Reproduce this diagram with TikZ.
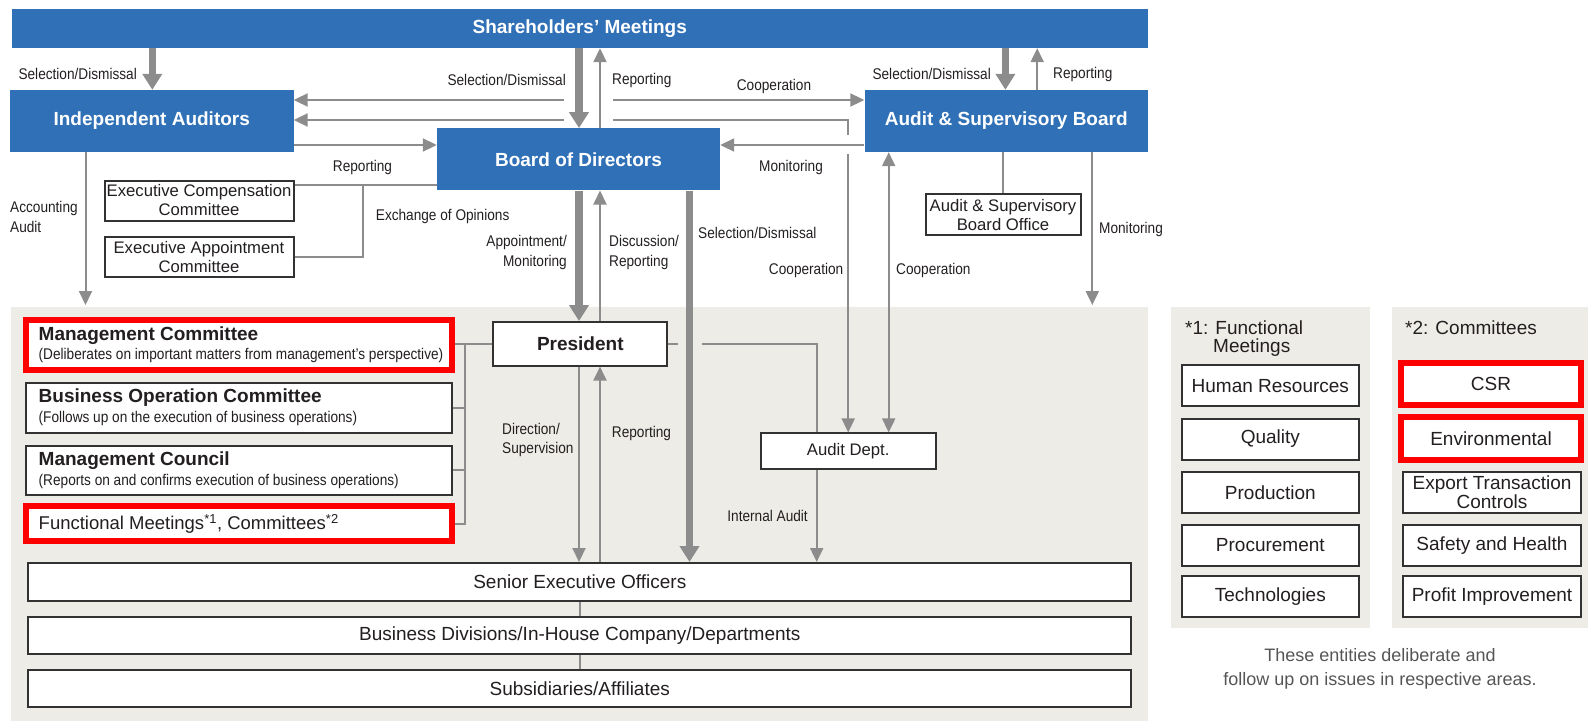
\documentclass[tikz,border=0pt]{standalone}
\usepackage{fontspec}
\setmainfont{Liberation Sans}
\newfontfamily\condfont{Liberation Sans}[FakeStretch=0.88]
\usetikzlibrary{arrows.meta}

\definecolor{boxblue}{RGB}{47,112,183}
\definecolor{linegray}{RGB}{140,140,140}
\definecolor{panelbg}{RGB}{238,236,231}
\definecolor{ink}{RGB}{35,31,32}
\definecolor{hired}{RGB}{255,0,0}
\definecolor{frame}{RGB}{50,50,50}
\definecolor{capgray}{RGB}{85,85,85}

\tikzset{
  panel/.style={fill=panelbg, draw=none, inner sep=0pt},
  bluebox/.style={fill=boxblue, draw=none, inner sep=0pt, text=white,
    font=\bfseries\fontsize{19}{22}\selectfont},
  whitebox/.style={fill=white, draw=frame, line width=2pt, inner sep=0pt,
    text=ink, align=center, font=\fontsize{16.7}{19}\selectfont},
  redbox/.style={fill=white, draw=hired, line width=6pt, inner sep=0pt},
  bigtext/.style={font=\fontsize{19}{19.5}\selectfont},
  thinline/.style={draw=linegray, line width=2pt},
  thinarrow/.style={thinline, -{Triangle[length=14pt,width=13pt]}},
  thinboth/.style={thinline, {Triangle[length=14pt,width=13pt]}-{Triangle[length=14pt,width=13pt]}},
  thickarrow/.style={draw=linegray, line width=7.5pt, -{Triangle[length=16pt,width=19pt]}},
  lbl/.style={inner sep=0pt, text=ink, font=\condfont\fontsize{15.5}{19.5}\selectfont},
  head/.style={inner sep=0pt, text=ink, anchor=west, font=\bfseries\fontsize{19}{22}\selectfont},
}

\begin{document}
\begin{tikzpicture}[x=1pt,y=-1pt]
\useasboundingbox (0,0) rectangle (1588,721);

% ---------- grey panels ----------
\node[panel, minimum width=1137.2, minimum height=413.8] (execbg) at (579.1,513.6) {};
\node[panel, minimum width=199, minimum height=321.6] (legA) at (1270,467.5) {};
\node[panel, minimum width=196.4, minimum height=321.6] (legB) at (1489.8,467.5) {};

% ---------- governance bodies ----------
\node[bluebox, minimum width=1136.5, minimum height=39.5] (SM) at (579.75,28.25) {Shareholders’ Meetings};
\node[bluebox, minimum width=283.5, minimum height=62] (IA) at (151.75,121) {Independent Auditors};
\node[bluebox, minimum width=283, minimum height=62] (BoD) at (578.5,159.3) {Board of Directors};
\node[bluebox, minimum width=283.5, minimum height=62] (ASB) at (1006.25,121) {Audit \& Supervisory Board};

\node[whitebox, minimum width=189, minimum height=40] (ECC) at (199,200.5) {Executive Compensation\\Committee};
\node[whitebox, minimum width=189, minimum height=40] (EAC) at (199,256.7) {Executive Appointment\\Committee};
\node[whitebox, minimum width=155, minimum height=41] (ASBO) at (1003,214.7) {Audit \& Supervisory\\Board Office};

% ---------- execution side ----------
\node[whitebox, minimum width=174, minimum height=43.5, font=\bfseries\fontsize{19}{22}\selectfont] (PR) at (580.3,343.8) {President};
\node[whitebox, minimum width=175, minimum height=35.5] (AD) at (848.2,451.2) {Audit Dept.};

\node[redbox, minimum width=425.4, minimum height=49.7] (MC) at (239,344.85) {};
\node[whitebox, minimum width=425.4, minimum height=49.7] (BOC) at (239,407.65) {};
\node[whitebox, minimum width=425.4, minimum height=49.7] (MCo) at (239,470.45) {};
\node[redbox, minimum width=425.4, minimum height=34.5] (FM) at (239,523.65) {};

\node[head] (MCt) at (38.5,335.5) {Management Committee};
\node[lbl, anchor=west] (MCs) at (38.5,355.5) {(Deliberates on important matters from management’s perspective)};
\node[head] (BOCt) at (38.5,397.5) {Business Operation Committee};
\node[lbl, anchor=west] (BOCs) at (38.5,418) {(Follows up on the execution of business operations)};
\node[head] (MCot) at (38.5,460.5) {Management Council};
\node[lbl, anchor=west] (MCos) at (38.5,481) {(Reports on and confirms execution of business operations)};
\node[inner sep=0pt, text=ink, anchor=west, font=\fontsize{18.5}{20}\selectfont] (FMt) at (38.5,523.6)
  {Functional Meetings\textsuperscript{*1}, Committees\textsuperscript{*2}};

\node[whitebox, bigtext, minimum width=1103, minimum height=37.6] (SEO) at (579.8,581.8) {Senior Executive Officers};
\node[whitebox, bigtext, minimum width=1103, minimum height=37.6] (BD) at (579.8,635.5) {Business Divisions/In-House Company/Departments};
\node[whitebox, bigtext, minimum width=1103, minimum height=37.6] (SA) at (579.8,688.3) {Subsidiaries/Affiliates};

% ---------- legend ----------
\node[inner sep=0pt, text=ink, anchor=west, font=\fontsize{19}{20}\selectfont] (legAt1) at (1185,328) {*1: Functional};
\node[inner sep=0pt, text=ink, anchor=west, font=\fontsize{19}{20}\selectfont] (legAt2) at (1213,348) {Meetings};
\node[inner sep=0pt, text=ink, anchor=west, font=\fontsize{19}{20}\selectfont] (legBt) at (1405,328) {*2: Committees};

\node[whitebox, bigtext, minimum width=177.3, minimum height=41] (f1) at (1270.35,385.8) {Human Resources};
\node[whitebox, bigtext, minimum width=177.3, minimum height=41] (f2) at (1270.35,439) {Quality};
\node[whitebox, bigtext, minimum width=177.3, minimum height=41] (f3) at (1270.35,492.3) {Production};
\node[whitebox, bigtext, minimum width=177.3, minimum height=41] (f4) at (1270.35,545.3) {Procurement};
\node[whitebox, bigtext, minimum width=177.3, minimum height=41] (f5) at (1270.35,596.7) {Technologies};

\node[redbox, bigtext, text=ink, minimum width=180, minimum height=42.3] (k1) at (1491,384.15) {CSR};
\node[redbox, bigtext, text=ink, minimum width=180, minimum height=42.7] (k2) at (1491,438.35) {Environmental};
\node[whitebox, bigtext, minimum width=177.4, minimum height=41] (k3) at (1492,492.3) {Export Transaction\\Controls};
\node[whitebox, bigtext, minimum width=177.4, minimum height=41] (k4) at (1492,545.3) {Safety and Health};
\node[whitebox, bigtext, minimum width=177.4, minimum height=41] (k5) at (1492,596.7) {Profit Improvement};

\node[inner sep=0pt, text=capgray, align=center, font=\fontsize{18}{24}\selectfont] (cap) at (1380,669)
  {These entities deliberate and\\follow up on issues in respective areas.};

% ---------- reference coordinates ----------
\coordinate (xSD) at (152.3,0);
\coordinate (xA) at (579,0);
\coordinate (xB) at (600,0);
\coordinate (xC) at (689.5,0);
\coordinate (xD) at (1005.4,0);
\coordinate (xE) at (1037.2,0);
\coordinate (xF) at (888.7,0);
\coordinate (xI) at (816.7,0);
\coordinate (c1L) at (563.7,100);
\coordinate (c1R) at (613,100);
\coordinate (c2L) at (563.7,120);
\coordinate (c2R) at (613,120);
\coordinate (c2corner) at (848.2,120);
\coordinate (c2gapT) at (848.2,135);
\coordinate (c2gapB) at (848.2,154);
\coordinate (r1) at (0,145);
\coordinate (ex) at (362.8,185);
\coordinate (monEnd) at (1092.3,305);
\coordinate (accEnd) at (85.5,305);
\coordinate (brtop) at (465,343.8);
\coordinate (prgapA) at (677.5,343.8);
\coordinate (prgapB) at (702,343.8);

% ---------- connectors: upper part ----------
\draw[thickarrow] (xSD |- SM.south) -- (xSD |- IA.north);
\draw[thickarrow] (xA |- SM.south) -- (xA |- BoD.north);
\draw[thinarrow] (xB |- BoD.north) -- (xB |- SM.south);
\draw[thickarrow] (xD |- SM.south) -- (xD |- ASB.north);
\draw[thinarrow] (xE |- ASB.north) -- (xE |- SM.south);

\draw[thinarrow] (c1L) -- (c1L -| IA.east);
\draw[thinarrow] (c1R) -- (c1R -| ASB.west);
\draw[thinarrow] (c2L) -- (c2L -| IA.east);
\draw[thinline] (c2R) -- (c2corner) -- (c2gapT);
\draw[thinarrow] (c2gapB) -- (AD.north);

\draw[thinarrow] (r1 -| IA.east) -- (r1 -| BoD.west);
\draw[thinarrow] (r1 -| ASB.west) -- (r1 -| BoD.east);

\draw[thinline] (ex -| BoD.west) -- (ex -| ECC.east);
\draw[thinline] (ex) |- (EAC.east);

\draw[thinarrow] (accEnd |- IA.south) -- (accEnd);
\draw[thinline] (ASB.south -| ASBO.north) -- (ASBO.north);
\draw[thinarrow] (monEnd |- ASB.south) -- (monEnd);
\draw[thinboth] (xF |- ASB.south) -- (xF |- AD.north);

\draw[thickarrow] (xA |- BoD.south) -- (xA |- PR.north);
\draw[thinarrow] (xB |- PR.north) -- (xB |- BoD.south);
\draw[thickarrow] (xC |- BoD.south) -- (xC |- SEO.north);

% ---------- connectors: execution side ----------
\draw[thinline] (PR.west) -- (PR.west -| MC.east);
\draw[thinline] (brtop) |- (FM.east);
\draw[thinline] (BOC.east) -- (BOC.east -| brtop);
\draw[thinline] (MCo.east) -- (MCo.east -| brtop);

\draw[thinline] (PR.east) -- (prgapA);
\draw[thinline] (prgapB) -| (xI |- AD.north);
\draw[thinarrow] (xI |- AD.south) -- (xI |- SEO.north);

\draw[thinarrow] (xA |- PR.south) -- (xA |- SEO.north);
\draw[thinarrow] (xB |- SEO.north) -- (xB |- PR.south);

\draw[thinline] (SEO.south) -- (BD.north);
\draw[thinline] (BD.south) -- (SA.north);

% ---------- connector labels ----------
\node[lbl, anchor=east] (t1) at (137,74) {Selection/Dismissal};
\node[lbl, anchor=east] (t2) at (566,80) {Selection/Dismissal};
\node[lbl, anchor=west] (t3) at (612,80) {Reporting};
\node[lbl] (t4) at (774,86) {Cooperation};
\node[lbl, anchor=east] (t5) at (991,74) {Selection/Dismissal};
\node[lbl, anchor=west] (t6) at (1053,74) {Reporting};
\node[lbl] (t7) at (362.5,167) {Reporting};
\node[lbl] (t8) at (791,167) {Monitoring};
\node[lbl, anchor=west] (t9) at (375.7,216) {Exchange of Opinions};
\node[lbl, anchor=west, align=left] (t10) at (10,217) {Accounting\\Audit};
\node[lbl, anchor=east, align=right] (t11) at (567,252.5) {Appointment/\\Monitoring};
\node[lbl, anchor=west, align=left] (t12) at (609,252.5) {Discussion/\\Reporting};
\node[lbl, anchor=west] (t13) at (698,233) {Selection/Dismissal};
\node[lbl, anchor=east] (t14) at (843.5,270) {Cooperation};
\node[lbl, anchor=west] (t15) at (896,270) {Cooperation};
\node[lbl, anchor=west] (t16) at (1099,229) {Monitoring};
\node[lbl, anchor=west, align=left] (t17) at (502,440) {Direction/\\Supervision};
\node[lbl, anchor=west] (t18) at (611.7,433.5) {Reporting};
\node[lbl, anchor=east] (t19) at (808,515.5) {Internal Audit};
\end{tikzpicture}
\end{document}
